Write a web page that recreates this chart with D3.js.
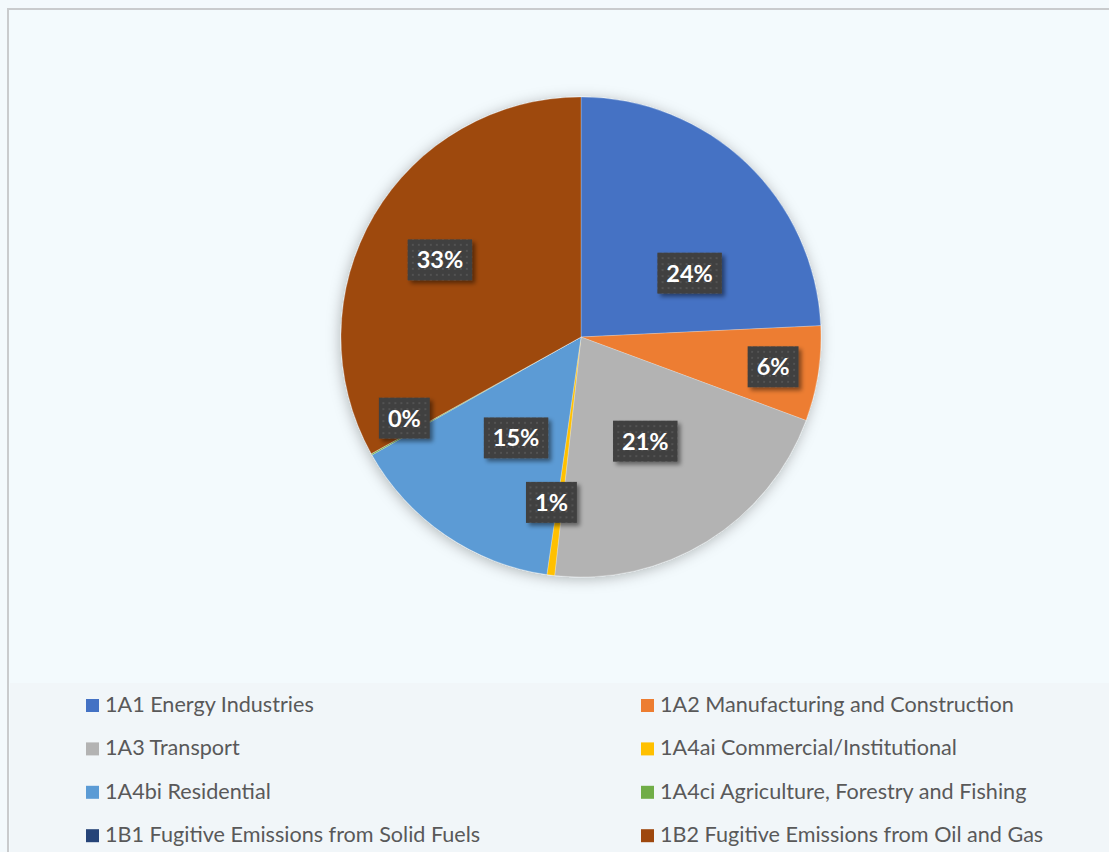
<!DOCTYPE html>
<html><head><meta charset="utf-8">
<script src="https://cdn.jsdelivr.net/npm/d3@7"></script>
<style>
html,body{margin:0;padding:0;background:#f3f9fc;}
svg{display:block;}
</style></head>
<body>
<svg id="chart" width="1109" height="852"></svg>
<script>
// ---- data ----
const categories = [
  "1A1 Energy Industries",
  "1A2 Manufacturing and Construction",
  "1A3 Transport",
  "1A4ai Commercial/Institutional",
  "1A4bi Residential",
  "1A4ci Agriculture, Forestry and Fishing",
  "1B1 Fugitive Emissions from Solid Fuels",
  "1B2 Fugitive Emissions from Oil and Gas"
];
const shares = [24.25, 6.4, 21.1, 0.52, 14.55, 0.1, 0, 33.08];
const colors = ["#4472C4", "#ED7D31", "#B3B3B3", "#FFC000", "#5B9BD5", "#70AD47", "#264478", "#9E480E"];

// ---- layout (label placement: radius fraction, angle nudge in degrees) ----
const labelLayout = [[0.525, 15.9], [0.81, 0], [0.51, 0], [0.70, 2.9], [0.50, -1.6], [0.81, 4.6], null, [0.67, -1.8]];

const W = 1109, H = 852;
const svg = d3.select("#chart");
const defs = svg.append("defs");

const pShadow = defs.append("filter").attr("id", "pieShadow")
  .attr("x", "-20%").attr("y", "-20%").attr("width", "140%").attr("height", "140%");
pShadow.append("feDropShadow").attr("dx", -1).attr("dy", 2).attr("stdDeviation", 7)
  .attr("flood-color", "#000").attr("flood-opacity", 0.28);

const bShadow = defs.append("filter").attr("id", "boxShadow")
  .attr("x", "-30%").attr("y", "-30%").attr("width", "160%").attr("height", "160%");
bShadow.append("feDropShadow").attr("dx", 3).attr("dy", 3).attr("stdDeviation", 2)
  .attr("flood-color", "#000").attr("flood-opacity", 0.45);

const pat = defs.append("pattern").attr("id", "dots").attr("patternUnits", "userSpaceOnUse")
  .attr("width", 6).attr("height", 6);
pat.append("rect").attr("width", 6).attr("height", 6).attr("fill", "#404040");
pat.append("rect").attr("x", 2).attr("y", 2).attr("width", 2).attr("height", 2).attr("fill", "#525252");

// backgrounds
svg.append("rect").attr("width", W).attr("height", H).attr("fill", "#f3f9fc");
svg.append("rect").attr("x", 8).attr("y", 9).attr("width", W + 10).attr("height", H + 10)
  .attr("fill", "#f3fafd").attr("stroke", "#c9cbcd").attr("stroke-width", 2);
svg.append("rect").attr("x", 10).attr("y", 683).attr("width", W).attr("height", H)
  .attr("fill", "#f1f6f9");

// pie
const cx = 581, cy = 337, R = 240;
const pie = d3.pie().sort(null).value(d => d.v);
const data = categories.map((c, i) => ({c, v: shares[i], col: colors[i], i}));
const arcs = pie(data);
const arc = d3.arc().innerRadius(0).outerRadius(R);

const g = svg.append("g").attr("transform", `translate(${cx},${cy})`);
g.append("g").attr("filter", "url(#pieShadow)")
  .selectAll("path").data(arcs).join("path")
  .attr("d", arc).attr("fill", d => d.data.col)
  .attr("stroke", "rgba(255,255,255,0.35)").attr("stroke-width", 0.7);

// labels
const fmt = v => Math.round(v) + "%";
const lg = g.append("g");
arcs.forEach((a, i) => {
  const lay = labelLayout[i];
  if (!lay || a.data.v <= 0) return;
  const mid = (a.startAngle + a.endAngle) / 2 + lay[1] * Math.PI / 180;
  const r = lay[0] * R;
  const x = Math.sin(mid) * r, y = -Math.cos(mid) * r;
  const gg = lg.append("g").attr("transform", `translate(${x},${y})`);
  const t = gg.append("text").attr("text-anchor", "middle").attr("dy", "0.36em")
    .attr("font-family", "Lato, 'Open Sans', sans-serif").attr("font-weight", 700)
    .attr("font-size", 23.5).attr("fill", "#fff").text(fmt(a.data.v));
  const bb = t.node().getBBox();
  const bw = bb.width + 18, bh = 41;
  gg.insert("rect", "text").attr("x", -bw / 2).attr("y", -bh / 2).attr("width", bw).attr("height", bh)
    .attr("fill", "url(#dots)").attr("filter", "url(#boxShadow)");
});

// legend
const legX = [86, 641], legY0 = 712, legDy = 43.4;
const leg = svg.append("g");
data.forEach((d, i) => {
  const col = i % 2, row = Math.floor(i / 2);
  const x = legX[col], y = legY0 + row * legDy;
  leg.append("rect").attr("x", x).attr("y", y - 13).attr("width", 13).attr("height", 13).attr("fill", d.col);
  leg.append("text").attr("x", x + 19).attr("y", y)
    .attr("font-family", "Lato, 'Open Sans', sans-serif").attr("font-size", 21.6)
    .attr("fill", "#595959").text(d.c);
});
</script>
</body></html>
